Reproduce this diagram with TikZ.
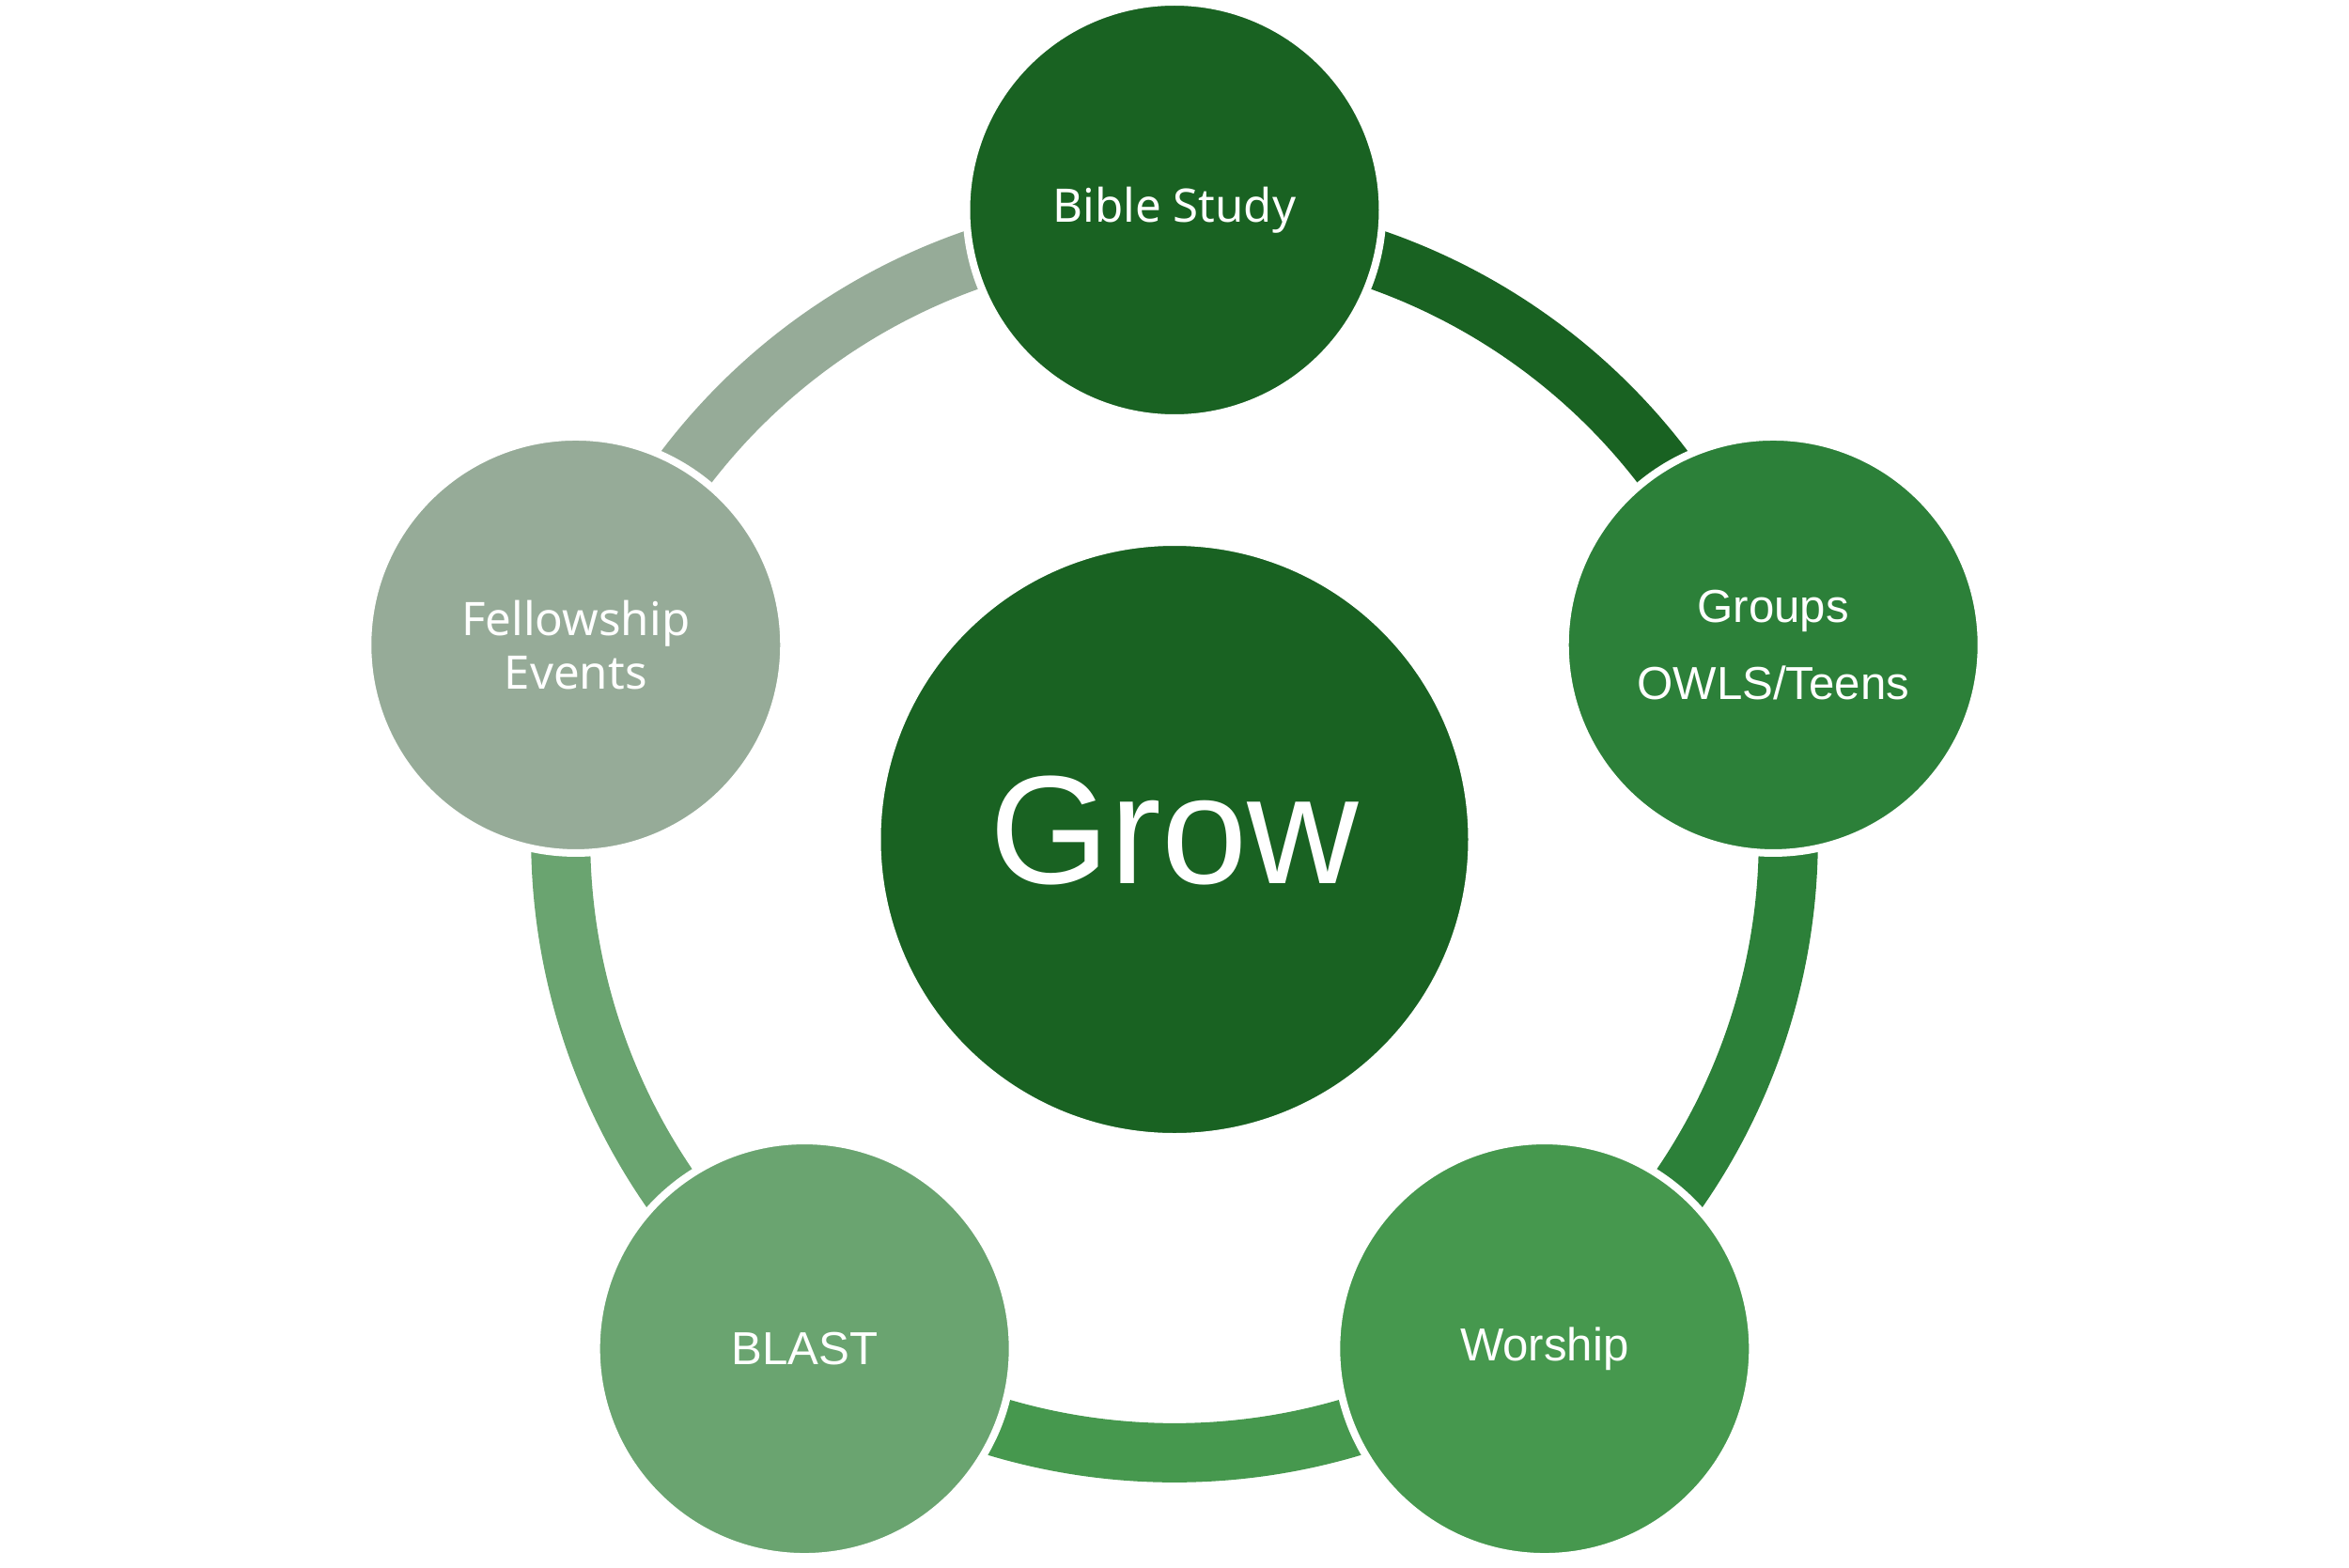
\documentclass[tikz,border=0pt]{standalone}
\usepackage{fontspec}
\setmainfont{Liberation Sans}
\newfontfamily\notosans{Noto Sans}
\usepackage{tikz}
\usetikzlibrary{calc,backgrounds}
\definecolor{vertBible}{RGB}{25,98,34}
\definecolor{vertGroupes}{RGB}{44,128,57}
\definecolor{vertWorship}{RGB}{70,152,78}
\definecolor{vertBlast}{RGB}{106,164,112}
\definecolor{vertFellow}{RGB}{150,171,152}

\begin{document}
\begin{tikzpicture}[
  bulle/.style={circle, draw=white, line width=0.08cm, minimum size=4.43cm,
                inner sep=0pt, text=white, align=center,
                font=\fontsize{14}{17}\selectfont},
  anneau/.style={line width=0.63cm, bend left=36, looseness=0.94}
]
\useasboundingbox (-12.5,-7.745) rectangle (12.5,8.935);

% Cercle central
\node[bulle, fill=vertBible, minimum size=6.33cm, text depth=0.2cm,
      font=\fontsize{46.7}{50}\selectfont] (hub) at (0,0) {Grow};

% Cercles extérieurs
\node[bulle, fill=vertBible, font=\notosans\fontsize{14}{17}\selectfont] (bs) at (90:6.7) {Bible Study};
\node[bulle, fill=vertGroupes, font=\fontsize{14}{23.3}\selectfont] (gr) at (18:6.7) {Groups\\OWLS/Teens};
\node[bulle, fill=vertWorship] (wo) at (-54:6.7) {Worship};
\node[bulle, fill=vertBlast] (bl) at (-126:6.7) {BLAST};
\node[bulle, fill=vertFellow, font=\notosans\fontsize{14}{16.4}\selectfont] (fe) at (162:6.7) {Fellowship\\Events};

% Arcs entre les cercles
\begin{scope}[on background layer]
\draw[anneau, vertBible] ($(hub)!0.9754!(bs)$) to ($(hub)!0.9754!(gr)$);
\draw[anneau, vertGroupes] ($(hub)!0.9754!(gr)$) to ($(hub)!0.9754!(wo)$);
\draw[anneau, vertWorship] ($(hub)!0.9754!(wo)$) to ($(hub)!0.9754!(bl)$);
\draw[anneau, vertBlast] ($(hub)!0.9754!(bl)$) to ($(hub)!0.9754!(fe)$);
\draw[anneau, vertFellow] ($(hub)!0.9754!(fe)$) to ($(hub)!0.9754!(bs)$);
\end{scope}

\end{tikzpicture}
\end{document}
